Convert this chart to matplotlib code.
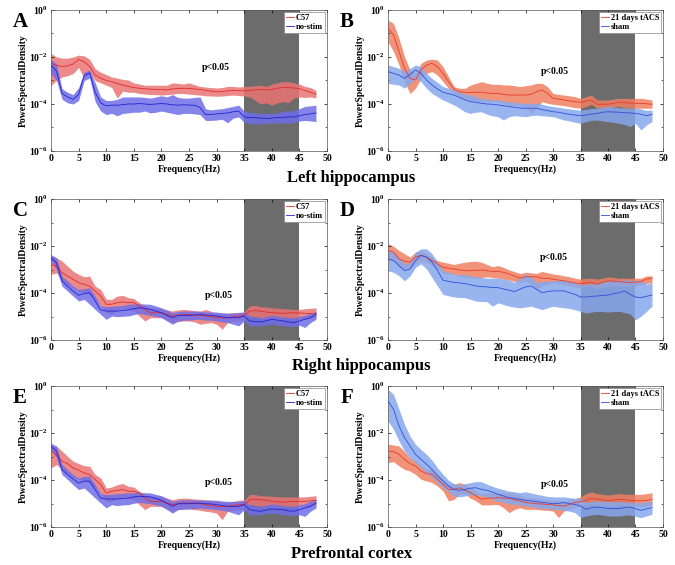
import numpy as np
import matplotlib
matplotlib.use("Agg")
import matplotlib.pyplot as plt
from matplotlib.ticker import FixedLocator, LogLocator, NullFormatter

plt.rcParams['font.family'] = 'Liberation Serif'
plt.rcParams['font.weight'] = 'bold'
plt.rcParams['mathtext.fontset'] = 'custom'
plt.rcParams['mathtext.rm'] = 'Liberation Serif:bold'
plt.rcParams['mathtext.bf'] = 'Liberation Serif:bold'

# =======================
# Data (log10 of power spectral density, 1 Hz steps 0..48)
# =======================
freq = np.arange(0, 49)

A_red_mean = [-2.27,-2.35,-2.40,-2.38,-2.30,-2.10,-2.20,-2.40,-2.77,-2.90, -3.00,-3.05,-3.13,-3.20,-3.25,-3.30,-3.33,-3.35,-3.37,-3.38, -3.38,-3.40,-3.36,-3.34,-3.33,-3.34,-3.36,-3.38,-3.42,-3.45, -3.48,-3.47,-3.44,-3.42,-3.43,-3.44,-3.42,-3.40,-3.38,-3.40, -3.38,-3.33,-3.30,-3.30,-3.32,-3.35,-3.42,-3.50,-3.58]
A_red_hi = [-1.85,-2.00,-2.05,-2.05,-2.00,-1.92,-1.95,-2.10,-2.50,-2.65, -2.75,-2.85,-2.90,-2.95,-2.98,-3.10,-3.15,-3.20,-3.20,-3.20, -3.20,-3.20,-3.10,-3.12,-3.15,-3.10,-3.18,-3.25,-3.28,-3.30, -3.32,-3.30,-3.25,-3.25,-3.28,-3.25,-3.25,-3.22,-3.20,-3.25, -3.15,-3.10,-3.05,-3.05,-3.10,-3.15,-3.25,-3.30,-3.42]
A_red_lo = [-3.20,-3.00,-2.85,-2.80,-2.70,-2.45,-2.90,-2.65,-3.00,-3.10, -3.20,-3.30,-3.75,-3.45,-3.50,-3.50,-3.55,-3.58,-3.60,-3.60, -3.62,-3.60,-3.58,-3.55,-3.55,-3.58,-3.60,-3.62,-3.65,-3.66, -3.67,-3.66,-3.64,-3.62,-3.64,-3.66,-3.70,-3.85,-4.00,-3.95, -4.05,-3.95,-3.90,-3.95,-3.75,-3.70,-3.72,-3.70,-3.75]
A_blue_mean = [-2.35,-2.60,-3.55,-3.70,-3.80,-3.60,-2.80,-2.68,-3.50,-3.95, -4.08,-4.05,-4.05,-4.03,-4.00,-4.00,-3.98,-4.00,-4.02,-4.00, -3.98,-4.00,-4.03,-4.05,-4.03,-4.05,-4.05,-4.15,-4.45,-4.45, -4.42,-4.40,-4.38,-4.33,-4.30,-4.55,-4.58,-4.58,-4.60,-4.62, -4.60,-4.58,-4.57,-4.55,-4.55,-4.50,-4.45,-4.42,-4.38]
A_blue_hi = [-2.10,-2.30,-3.35,-3.50,-3.60,-3.30,-2.65,-2.55,-3.10,-3.70, -3.85,-3.85,-3.80,-3.70,-3.70,-3.70,-3.70,-3.72,-3.75,-3.70, -3.65,-3.70,-3.60,-3.72,-3.75,-3.75,-3.72,-3.70,-4.20,-4.25, -4.22,-4.20,-4.15,-4.10,-4.05,-4.30,-4.35,-4.38,-4.40,-4.40, -4.40,-4.38,-4.30,-4.30,-4.28,-4.20,-4.10,-4.08,-4.05]
A_blue_lo = [-2.70,-3.00,-3.80,-3.95,-4.00,-3.85,-3.00,-2.90,-3.90,-4.30, -4.45,-4.40,-4.50,-4.40,-4.38,-4.35,-4.35,-4.30,-4.38,-4.35, -4.30,-4.35,-4.40,-4.45,-4.40,-4.40,-4.42,-4.45,-4.70,-4.70, -4.68,-4.65,-4.80,-4.60,-4.55,-4.78,-4.82,-4.85,-4.85,-4.82, -4.83,-4.80,-4.80,-4.82,-4.78,-4.72,-4.70,-4.72,-4.75]

B_red_mean = [-0.78,-1.06,-1.77,-2.48,-2.91,-2.98,-2.55,-2.34,-2.27,-2.41, -2.70,-3.05,-3.36,-3.48,-3.50,-3.52,-3.50,-3.50,-3.53,-3.55, -3.55,-3.59,-3.62,-3.62,-3.62,-3.62,-3.59,-3.48,-3.40,-3.55, -3.76,-3.79,-3.83,-3.87,-3.90,-3.93,-3.87,-3.83,-4.01,-4.01, -4.01,-3.97,-3.93,-3.93,-3.96,-3.97,-3.97,-3.99,-4.01]
B_red_hi = [-0.43,-0.57,-1.21,-1.99,-2.55,-2.70,-2.27,-2.13,-2.09,-2.13, -2.41,-2.84,-3.26,-3.33,-3.33,-3.19,-3.12,-3.05,-3.12,-3.16, -3.16,-3.19,-3.19,-3.22,-3.26,-3.22,-3.19,-3.12,-3.12,-3.26, -3.55,-3.59,-3.62,-3.65,-3.69,-3.76,-3.69,-3.62,-3.83,-3.83, -3.83,-3.79,-3.76,-3.76,-3.76,-3.76,-3.76,-3.79,-3.83]
B_red_lo = [-1.35,-1.77,-2.34,-3.05,-3.55,-3.33,-2.91,-2.70,-2.62,-2.77, -3.05,-3.33,-3.55,-3.69,-3.76,-3.83,-3.87,-3.90,-3.90,-3.90, -3.90,-3.97,-4.04,-4.04,-4.07,-4.11,-4.40,-4.18,-3.90,-3.97, -4.01,-4.04,-4.07,-4.11,-4.16,-4.18,-4.11,-4.01,-4.18,-4.18, -4.16,-4.13,-4.11,-4.16,-4.18,-4.18,-4.18,-4.18,-4.18]
B_blue_mean = [-2.62,-2.70,-2.77,-2.91,-2.74,-2.55,-2.70,-2.98,-3.19,-3.36, -3.50,-3.56,-3.62,-3.72,-3.82,-3.90,-3.93,-3.97,-4.00,-4.01, -4.04,-4.07,-4.11,-4.14,-4.17,-4.18,-4.18,-4.18,-4.24,-4.28, -4.33,-4.35,-4.40,-4.44,-4.47,-4.50,-4.47,-4.43,-4.40,-4.35, -4.33,-4.34,-4.35,-4.37,-4.38,-4.40,-4.44,-4.50,-4.44]
B_blue_hi = [-2.34,-2.41,-2.48,-2.62,-2.48,-2.34,-2.41,-2.70,-2.91,-3.08, -3.26,-3.33,-3.40,-3.50,-3.57,-3.62,-3.69,-3.76,-3.79,-3.82, -3.83,-3.87,-3.90,-3.93,-3.96,-3.97,-3.97,-3.97,-4.01,-4.07, -4.11,-4.14,-4.18,-4.21,-4.24,-4.26,-4.23,-4.20,-4.18,-4.14, -4.11,-4.13,-4.16,-4.17,-4.18,-4.18,-4.21,-4.27,-4.26]
B_blue_lo = [-3.12,-3.16,-3.19,-3.33,-3.12,-2.91,-3.05,-3.33,-3.55,-3.69, -3.83,-3.93,-4.04,-4.18,-4.33,-4.40,-4.35,-4.33,-4.44,-4.50, -4.54,-4.68,-4.54,-4.50,-4.52,-4.54,-4.50,-4.47,-4.50,-4.52, -4.54,-4.61,-4.68,-4.72,-4.78,-4.82,-4.75,-4.70,-4.68,-4.72, -4.75,-4.78,-4.82,-4.87,-4.96,-4.82,-5.11,-4.89,-4.75]

C_red_mean = [-2.79,-2.86,-3.14,-3.28,-3.42,-3.56,-3.63,-3.71,-3.92,-4.13, -4.48,-4.48,-4.41,-4.38,-4.41,-4.41,-4.55,-4.70,-4.84,-4.84, -4.84,-4.91,-4.98,-4.95,-4.92,-4.91,-4.94,-4.95,-4.98,-5.01, -5.05,-5.06,-5.05,-5.01,-4.98,-4.95,-4.77,-4.75,-4.77,-4.81, -4.84,-4.85,-4.87,-4.85,-4.84,-4.85,-4.87,-4.87,-4.87]
C_red_hi = [-2.43,-2.50,-2.64,-2.86,-3.07,-3.21,-3.31,-3.28,-3.71,-3.85, -4.27,-4.27,-4.13,-4.10,-4.20,-4.24,-4.41,-4.55,-4.63,-4.64, -4.67,-4.72,-4.77,-4.72,-4.70,-4.72,-4.75,-4.77,-4.70,-4.78, -4.87,-4.87,-4.85,-4.84,-4.82,-4.81,-4.55,-4.53,-4.58,-4.60, -4.63,-4.64,-4.67,-4.68,-4.70,-4.70,-4.67,-4.65,-4.63]
C_red_lo = [-3.21,-3.14,-3.49,-3.63,-3.78,-3.92,-3.99,-4.06,-4.27,-4.55, -4.84,-4.91,-4.70,-4.63,-4.70,-4.77,-4.98,-5.19,-5.05,-5.05, -5.05,-5.15,-5.26,-5.22,-5.19,-5.19,-5.23,-5.33,-5.29,-5.26, -5.33,-5.54,-5.26,-5.22,-5.19,-5.15,-4.98,-5.01,-5.05,-5.09, -5.12,-5.12,-5.12,-5.11,-5.09,-5.11,-5.12,-5.09,-5.05]
C_blue_mean = [-2.50,-2.72,-3.49,-3.71,-3.92,-4.10,-4.02,-3.99,-4.34,-4.72, -4.77,-4.77,-4.77,-4.74,-4.72,-4.67,-4.63,-4.65,-4.70,-4.77, -4.84,-4.95,-5.05,-4.95,-4.95,-4.95,-4.94,-4.91,-4.94,-4.95, -4.98,-5.02,-5.05,-5.05,-5.05,-4.98,-5.19,-5.22,-5.23,-5.18, -5.12,-5.15,-5.19,-5.23,-5.26,-5.19,-5.12,-5.05,-4.91]
C_blue_hi = [-2.36,-2.50,-3.28,-3.49,-3.71,-3.85,-3.82,-3.78,-4.13,-4.55, -4.58,-4.57,-4.55,-4.53,-4.48,-4.47,-4.46,-4.47,-4.48,-4.55, -4.63,-4.72,-4.84,-4.79,-4.77,-4.77,-4.77,-4.78,-4.81,-4.81, -4.81,-4.84,-4.87,-4.85,-4.84,-4.81,-4.98,-5.02,-5.05,-5.00, -4.95,-4.98,-5.02,-5.04,-5.05,-5.00,-4.95,-4.87,-4.77]
C_blue_lo = [-2.64,-3.00,-3.71,-3.92,-4.13,-4.34,-4.27,-4.48,-4.70,-4.91, -5.12,-4.98,-5.01,-4.99,-4.98,-4.92,-4.87,-4.91,-4.95,-4.99, -5.05,-5.19,-5.33,-5.19,-5.16,-5.15,-5.13,-5.12,-5.15,-5.16, -5.19,-5.23,-5.26,-5.33,-5.40,-5.19,-5.40,-5.40,-5.40,-5.36, -5.33,-5.37,-5.40,-5.42,-5.43,-5.37,-5.47,-5.26,-5.12]

D_red_mean = [-2.19,-2.26,-2.55,-2.65,-2.69,-2.47,-2.40,-2.47,-2.62,-2.76, -2.91,-2.94,-2.98,-3.02,-3.05,-3.05,-3.04,-3.02,-3.05,-3.08, -3.08,-3.12,-3.19,-3.28,-3.37,-3.31,-3.31,-3.31,-3.37,-3.38, -3.41,-3.45,-3.48,-3.53,-3.57,-3.60,-3.57,-3.55,-3.63,-3.55, -3.48,-3.50,-3.51,-3.54,-3.55,-3.54,-3.51,-3.41,-3.37]
D_red_hi = [-1.90,-2.01,-2.19,-2.33,-2.47,-2.26,-2.19,-2.33,-2.47,-2.62, -2.69,-2.73,-2.79,-2.73,-2.69,-2.66,-2.65,-2.69,-2.79,-2.88, -2.83,-2.91,-3.02,-3.09,-3.17,-3.12,-3.14,-3.17,-3.08,-3.14, -3.19,-3.22,-3.27,-3.31,-3.37,-3.41,-3.38,-3.37,-3.41,-3.37, -3.31,-3.34,-3.37,-3.37,-3.37,-3.37,-3.37,-3.27,-3.27]
D_red_lo = [-2.62,-2.62,-2.91,-2.98,-2.98,-2.76,-2.62,-2.69,-2.83,-2.98, -3.17,-3.19,-3.22,-3.28,-3.34,-3.35,-3.37,-3.34,-3.31,-3.34, -3.37,-3.41,-3.45,-3.51,-3.55,-3.48,-3.63,-3.88,-3.70,-3.63, -3.55,-3.60,-3.65,-3.70,-3.74,-3.77,-3.70,-3.74,-3.80,-3.74, -3.70,-3.70,-3.70,-3.70,-3.70,-3.68,-3.65,-3.60,-3.55]
D_blue_mean = [-2.55,-2.62,-2.83,-3.05,-2.98,-2.62,-2.40,-2.47,-2.69,-3.05, -3.45,-3.51,-3.55,-3.57,-3.60,-3.65,-3.70,-3.73,-3.74,-3.77, -3.77,-3.83,-3.88,-3.94,-3.84,-3.74,-3.70,-3.84,-3.99,-3.94, -3.91,-3.91,-3.91,-3.99,-4.06,-4.17,-4.17,-4.14,-4.13,-4.10, -4.09,-4.03,-3.99,-3.91,-4.06,-4.17,-4.20,-4.14,-4.09]
D_blue_hi = [-2.12,-2.26,-2.47,-2.76,-2.69,-2.26,-2.12,-2.12,-2.33,-2.69, -3.05,-3.12,-3.19,-3.21,-3.22,-3.27,-3.31,-3.34,-3.37,-3.37, -3.37,-3.41,-3.45,-3.55,-3.37,-3.19,-3.31,-3.55,-3.51,-3.50, -3.48,-3.47,-3.45,-3.51,-3.55,-3.65,-3.63,-3.61,-3.60,-3.54, -3.48,-3.47,-3.45,-3.45,-3.45,-3.47,-3.48,-3.63,-3.55]
D_blue_lo = [-3.05,-3.12,-3.27,-3.48,-3.27,-2.91,-2.76,-2.98,-3.34,-3.70, -4.06,-4.12,-4.17,-4.19,-4.20,-4.27,-4.35,-4.36,-4.37,-4.56, -4.42,-4.49,-4.56,-4.60,-4.63,-4.60,-4.56,-4.63,-4.71,-4.63, -4.56,-4.60,-4.63,-4.66,-4.71,-4.78,-4.85,-4.81,-4.78,-4.79, -4.81,-4.79,-4.78,-4.83,-4.89,-5.14,-4.99,-4.78,-4.56]

E_red_mean = [-2.77,-2.92,-3.20,-3.30,-3.49,-3.58,-3.70,-3.77,-3.98,-4.20, -4.55,-4.48,-4.44,-4.41,-4.48,-4.48,-4.55,-4.77,-4.91,-4.91, -4.91,-4.98,-5.05,-5.01,-4.98,-4.98,-4.98,-5.01,-5.05,-5.09, -5.12,-5.14,-5.12,-5.08,-5.05,-5.05,-4.84,-4.82,-4.84,-4.86, -4.91,-4.92,-4.95,-4.92,-4.91,-4.91,-4.91,-4.89,-4.86]
E_red_hi = [-2.56,-2.56,-2.77,-2.99,-3.20,-3.30,-3.39,-3.41,-3.77,-3.91, -4.34,-4.30,-4.20,-4.15,-4.27,-4.30,-4.48,-4.62,-4.67,-4.68, -4.69,-4.77,-4.84,-4.79,-4.77,-4.78,-4.81,-4.82,-4.84,-4.86, -4.91,-4.94,-4.95,-4.91,-4.86,-4.86,-4.62,-4.62,-4.67,-4.68, -4.69,-4.71,-4.72,-4.72,-4.72,-4.72,-4.72,-4.69,-4.67]
E_red_lo = [-3.49,-3.34,-3.56,-3.70,-3.84,-3.98,-4.05,-4.13,-4.34,-4.62, -4.91,-4.91,-4.77,-4.69,-4.77,-4.84,-5.05,-5.26,-5.12,-5.12, -5.12,-5.23,-5.33,-5.26,-5.23,-5.23,-5.26,-5.29,-5.33,-5.36, -5.41,-5.69,-5.33,-5.29,-5.26,-5.23,-5.05,-5.08,-5.12,-5.14, -5.15,-5.15,-5.15,-5.14,-5.12,-5.14,-5.15,-5.12,-5.09]
E_blue_mean = [-2.56,-2.77,-3.56,-3.77,-3.95,-4.13,-4.05,-4.05,-4.41,-4.77, -4.81,-4.81,-4.81,-4.78,-4.77,-4.72,-4.69,-4.71,-4.72,-4.79, -4.86,-4.99,-5.12,-5.01,-5.01,-5.01,-4.99,-4.98,-5.01,-5.02, -5.05,-5.09,-5.12,-5.12,-5.12,-5.05,-5.26,-5.31,-5.33,-5.28, -5.23,-5.25,-5.26,-5.31,-5.33,-5.26,-5.19,-5.12,-4.98]
E_blue_hi = [-2.42,-2.56,-3.34,-3.56,-3.77,-3.91,-3.84,-3.84,-4.20,-4.58, -4.62,-4.61,-4.58,-4.57,-4.55,-4.54,-4.52,-4.54,-4.55,-4.61, -4.67,-4.78,-4.91,-4.86,-4.84,-4.84,-4.84,-4.85,-4.86,-4.86, -4.86,-4.89,-4.91,-4.91,-4.91,-4.86,-5.05,-5.09,-5.12,-5.06, -5.02,-5.05,-5.09,-5.11,-5.12,-5.06,-5.01,-4.91,-4.81]
E_blue_lo = [-2.73,-3.06,-3.77,-3.98,-4.20,-4.41,-4.34,-4.55,-4.77,-4.98, -5.19,-5.05,-5.09,-5.06,-5.05,-4.99,-4.95,-4.98,-5.01,-5.06, -5.12,-5.26,-5.41,-5.26,-5.25,-5.23,-5.22,-5.19,-5.22,-5.23, -5.26,-5.29,-5.33,-5.41,-5.48,-5.26,-5.48,-5.48,-5.48,-5.43, -5.41,-5.43,-5.48,-5.49,-5.52,-5.48,-5.55,-5.33,-5.19]

F_red_mean = [-2.77,-2.79,-2.91,-3.12,-3.30,-3.40,-3.62,-3.73,-3.76,-3.97, -4.18,-4.40,-4.40,-4.33,-4.44,-4.54,-4.68,-4.82,-4.78,-4.77, -4.75,-4.77,-4.78,-4.84,-4.89,-4.96,-4.98,-5.01,-5.02,-5.04, -5.06,-5.09,-5.11,-5.04,-4.96,-4.92,-4.87,-4.78,-4.82,-4.85, -4.87,-4.85,-4.82,-4.84,-4.87,-4.88,-4.89,-4.87,-4.82]
F_red_hi = [-2.48,-2.51,-2.55,-2.79,-3.05,-3.16,-3.40,-3.55,-3.55,-3.73, -3.97,-4.18,-4.18,-4.11,-4.18,-4.33,-4.47,-4.61,-4.54,-4.54, -4.54,-4.54,-4.54,-4.58,-4.64,-4.75,-4.77,-4.78,-4.81,-4.84, -4.87,-4.88,-4.89,-4.84,-4.78,-4.72,-4.58,-4.50,-4.58,-4.61, -4.64,-4.61,-4.58,-4.60,-4.61,-4.61,-4.61,-4.58,-4.54]
F_red_lo = [-3.26,-3.22,-3.40,-3.55,-3.62,-3.76,-3.97,-4.04,-4.11,-4.26, -4.47,-4.89,-4.82,-4.61,-4.58,-4.78,-4.89,-5.06,-5.06,-5.05, -5.04,-5.18,-5.39,-5.25,-5.18,-5.25,-5.25,-5.25,-5.28,-5.29, -5.32,-5.60,-5.32,-5.25,-5.18,-5.11,-5.06,-5.01,-5.06,-5.09, -5.11,-5.09,-5.06,-5.08,-5.11,-5.12,-5.15,-5.11,-5.06]
F_blue_mean = [-0.64,-0.99,-1.70,-2.20,-2.55,-2.91,-3.12,-3.33,-3.55,-3.83, -4.04,-4.26,-4.40,-4.44,-4.40,-4.35,-4.33,-4.40,-4.44,-4.52, -4.61,-4.68,-4.75,-4.78,-4.82,-4.87,-4.89,-4.92,-4.95,-4.98, -5.01,-4.99,-4.96,-5.01,-5.04,-5.11,-5.25,-5.18,-5.15,-5.18, -5.21,-5.21,-5.21,-5.18,-5.15,-5.22,-5.29,-5.23,-5.18]
F_blue_hi = [-0.14,-0.35,-0.99,-1.63,-2.13,-2.48,-2.70,-2.91,-3.16,-3.48, -3.76,-4.01,-4.16,-4.21,-4.16,-4.11,-4.07,-4.07,-4.18,-4.27, -4.35,-4.41,-4.47,-4.50,-4.54,-4.50,-4.55,-4.61,-4.65,-4.70, -4.72,-4.72,-4.72,-4.75,-4.78,-4.78,-4.96,-4.92,-4.89,-4.91, -4.92,-4.92,-4.92,-4.94,-4.96,-4.96,-4.96,-4.94,-4.89]
F_blue_lo = [-1.49,-1.84,-2.34,-2.77,-3.05,-3.26,-3.48,-3.69,-3.90,-4.11, -4.33,-4.50,-4.68,-4.72,-4.68,-4.64,-4.64,-4.68,-4.72,-4.81, -4.89,-4.95,-5.01,-5.04,-5.06,-5.11,-5.13,-5.18,-5.21,-5.22, -5.25,-5.26,-5.29,-5.33,-5.39,-5.60,-5.53,-5.49,-5.46,-5.49, -5.53,-5.53,-5.53,-5.50,-5.49,-5.55,-5.60,-5.53,-5.46]

letters = ["A", "B", "C", "D", "E", "F"]
legend_ctrl = ["C57", "no-stim"]
legend_tacs = ["21 days tACS", "sham"]
region_titles = ["Left hippocampus", "Right hippocampus", "Prefrontal cortex"]
p_x = [29.9, 30.4, 30.4, 30.2, 30.4, 30.4]
p_y = [-2.43, -2.6, -4.1, -2.5, -4.1, -4.2]
stim_band = (35, 45)

# =======================
# Figure
# =======================
fig = plt.figure(figsize=(6.75, 5.65), dpi=100)
W, H = 675.0, 565.0

col_x = [(51, 327), (388, 663)]
row_y = [(10, 151), (199, 340), (386, 527)]

# colours: left column (C57/no-stim) and right column (tACS/sham)
pal_left = dict(rband="#e97474", rline="#e62a2a", bband="#6e6ee8", bline="#2222d2")
pal_right = dict(rband="#ee8062", rline="#ec3a28", bband="#86a8ee", bline="#2f4edc")

panels = [
    (A_red_mean, A_red_lo, A_red_hi, A_blue_mean, A_blue_lo, A_blue_hi),
    (B_red_mean, B_red_lo, B_red_hi, B_blue_mean, B_blue_lo, B_blue_hi),
    (C_red_mean, C_red_lo, C_red_hi, C_blue_mean, C_blue_lo, C_blue_hi),
    (D_red_mean, D_red_lo, D_red_hi, D_blue_mean, D_blue_lo, D_blue_hi),
    (E_red_mean, E_red_lo, E_red_hi, E_blue_mean, E_blue_lo, E_blue_hi),
    (F_red_mean, F_red_lo, F_red_hi, F_blue_mean, F_blue_lo, F_blue_hi),
]

for i, data in enumerate(panels):
    r, c = divmod(i, 2)
    x0, x1 = col_x[c]
    y0, y1 = row_y[r]
    ax = fig.add_axes([x0 / W, 1 - y1 / H, (x1 - x0) / W, (y1 - y0) / H])
    pal = pal_left if c == 0 else pal_right
    labels = legend_ctrl if c == 0 else legend_tacs
    rm, rl, rh, bm, bl, bh = [10 ** np.array(d) for d in data]

    ax.axvspan(stim_band[0], stim_band[1], color="#6c6c6c", lw=0, zorder=0)
    ax.fill_between(freq, rl, rh, color=pal["rband"], alpha=0.85, lw=0, zorder=1)
    ax.fill_between(freq, bl, bh, color=pal["bband"], alpha=0.85, lw=0, zorder=2)
    ax.plot(freq, rm, color=pal["rline"], lw=0.6, zorder=3, label=labels[0])
    ax.plot(freq, bm, color=pal["bline"], lw=0.6, zorder=4, label=labels[1])

    ax.set_yscale("log")
    ax.set_xlim(0, 50)
    ax.set_ylim(1e-6, 1)
    ax.set_xticks(np.arange(0, 51, 5))
    ax.set_xticklabels([str(v) for v in range(0, 51, 5)])
    ax.yaxis.set_major_locator(FixedLocator([1e-6, 1e-4, 1e-2, 1]))
    ax.set_yticklabels([r"$\mathbf{10^{-6}}$", r"$\mathbf{10^{-4}}$", r"$\mathbf{10^{-2}}$", r"$\mathbf{10^{0}}$"])
    ax.yaxis.set_minor_locator(LogLocator(base=10, subs=(1.0,), numticks=20))
    ax.yaxis.set_minor_formatter(NullFormatter())
    ax.tick_params(which="both", direction="in", top=True, right=True, labelsize=7, pad=2)
    ax.tick_params(which="major", length=2.5, width=0.5)
    ax.tick_params(which="minor", length=1.5, width=0.4)
    for s in ax.spines.values():
        s.set_linewidth(0.5)
        s.set_color("#555555")

    ax.set_xlabel("Frequency(Hz)", fontsize=7, fontweight="bold", labelpad=1)
    ax.set_ylabel("PowerSpectralDensity", fontsize=7, fontweight="bold", labelpad=1)
    ax.text(p_x[i], 10 ** p_y[i], "p<0.05", fontsize=7, fontweight="bold", ha="center", va="center", zorder=5)

    leg = ax.legend(loc="upper right", fontsize=6, handlelength=1.0, handletextpad=0.2,
                    borderpad=0.25, labelspacing=0.15, borderaxespad=0.2, fancybox=False,
                    framealpha=1)
    leg.get_frame().set_linewidth(0.5)
    leg.get_frame().set_edgecolor("#888888")

    lx = 20 if c == 0 else 347
    fig.text(lx / W, 1 - (y0 + 12) / H, letters[i], fontsize=15, fontweight="bold", ha="center", va="center")

title_pos = [(351, 178), (361, 366), (352, 554)]
for t, (tx, ty) in zip(region_titles, title_pos):
    fig.text(tx / W, 1 - ty / H, t, fontsize=12, fontweight="bold", ha="center", va="center")

fig.savefig("out.png", dpi=100)
